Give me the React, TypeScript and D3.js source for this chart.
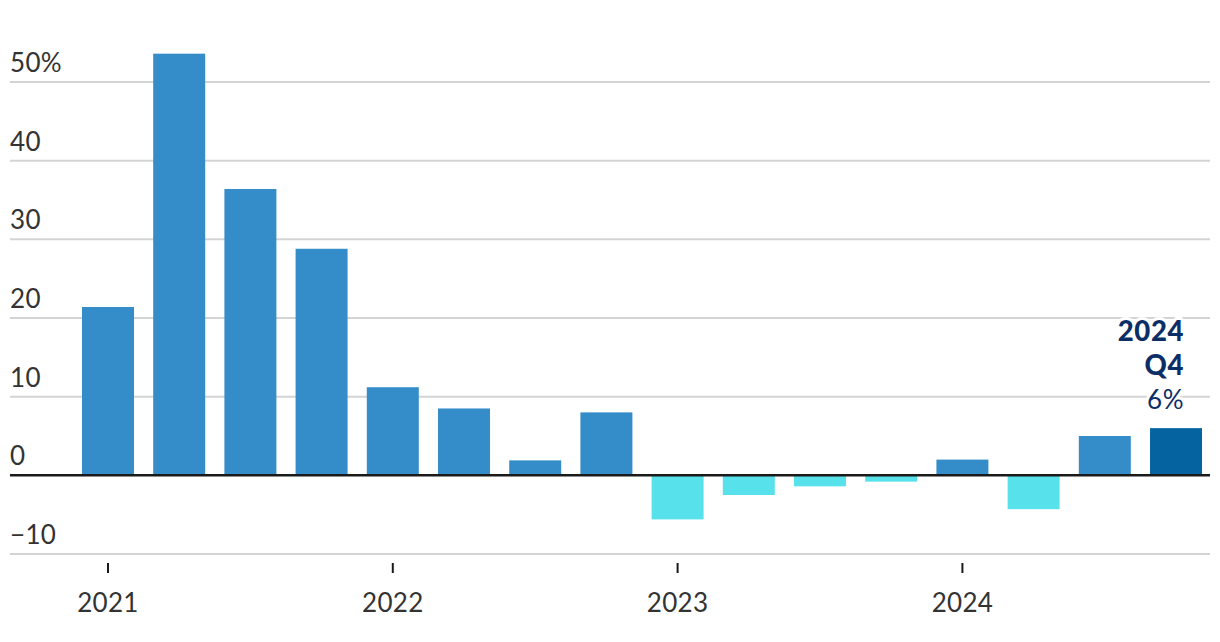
import React from "react";
import * as d3 from "d3";

const quarters = [
  "2021Q1","2021Q2","2021Q3","2021Q4",
  "2022Q1","2022Q2","2022Q3","2022Q4",
  "2023Q1","2023Q2","2023Q3","2023Q4",
  "2024Q1","2024Q2","2024Q3","2024Q4",
];
const values = [21.4, 53.6, 36.4, 28.8, 11.2, 8.5, 1.9, 8.0, -5.6, -2.5, -1.4, -0.8, 2.0, -4.3, 5.0, 6.0];
const yTicks = [-10, 0, 10, 20, 30, 40, 50];
const yearLabels = ["2021", "2022", "2023", "2024"];
const yearTickQuarters = ["2021Q1", "2022Q1", "2023Q1", "2024Q1"];
const annotationLines = ["2024", "Q4", "6%"];

const W = 1220;
const H = 642;
const FONT = "Lato, 'Open Sans', sans-serif";

export default function App() {
  const x = d3.scaleBand<string>().domain(quarters).range([82, 1202]).paddingInner(0.27).paddingOuter(0);
  const y = d3.scaleLinear().domain([-10, 50]).range([554, 82]);
  const gridL = 10;
  const gridR = 1210;
  const last = quarters.length - 1;

  const fmt = (v: number) => (v === 50 ? "50%" : v < 0 ? "\u2212" + Math.abs(v) : String(v));

  return (
    <svg width={W} height={H} style={{ position: "absolute", left: 0, top: 0, background: "#fff" }}>
      {yTicks.filter((t) => t !== 0).map((t) => (
        <line key={"g" + t} x1={gridL} x2={gridR} y1={y(t)} y2={y(t)} stroke="#d4d4d4" strokeWidth={2} />
      ))}
      {yTicks.map((t) => (
        <text key={"yl" + t} x={gridL} y={y(t) - 10} fontFamily={FONT} fontSize={26} fill="#333" letterSpacing={0.3}>
          {fmt(t)}
        </text>
      ))}
      {values.map((v, i) => (
        <rect
          key={quarters[i]}
          x={x(quarters[i])}
          width={x.bandwidth()}
          y={v >= 0 ? y(v) : y(0)}
          height={Math.abs(y(v) - y(0))}
          fill={i === last ? "#0563a0" : v >= 0 ? "#348cc8" : "#57e1ea"}
        />
      ))}
      <line x1={gridL} x2={gridR} y1={y(0)} y2={y(0)} stroke="#1a1a1a" strokeWidth={2.5} />
      {yearTickQuarters.map((q, i) => {
        const cx = (x(q) as number) + x.bandwidth() / 2;
        return (
          <g key={q}>
            <line x1={cx} x2={cx} y1={563} y2={573} stroke="#1a1a1a" strokeWidth={2} />
            <text x={cx} y={612} textAnchor="middle" fontFamily={FONT} fontSize={26} fill="#333" letterSpacing={0.3}>
              {yearLabels[i]}
            </text>
          </g>
        );
      })}
      {annotationLines.map((s, i) => (
        <text
          key={"a" + i}
          x={1184}
          y={y(values[last]) - 19 - (annotationLines.length - 1 - i) * 34}
          textAnchor="end"
          fontFamily={FONT}
          fontSize={i < 2 ? 27.5 : 26}
          fontWeight={i < 2 ? 900 : 400}
          letterSpacing={i < 2 ? 0.6 : 0.5}
          fill="#0b2e66"
          stroke="#fff"
          strokeWidth={6}
          paintOrder="stroke"
          strokeLinejoin="round"
        >
          {s}
        </text>
      ))}
    </svg>
  );
}
